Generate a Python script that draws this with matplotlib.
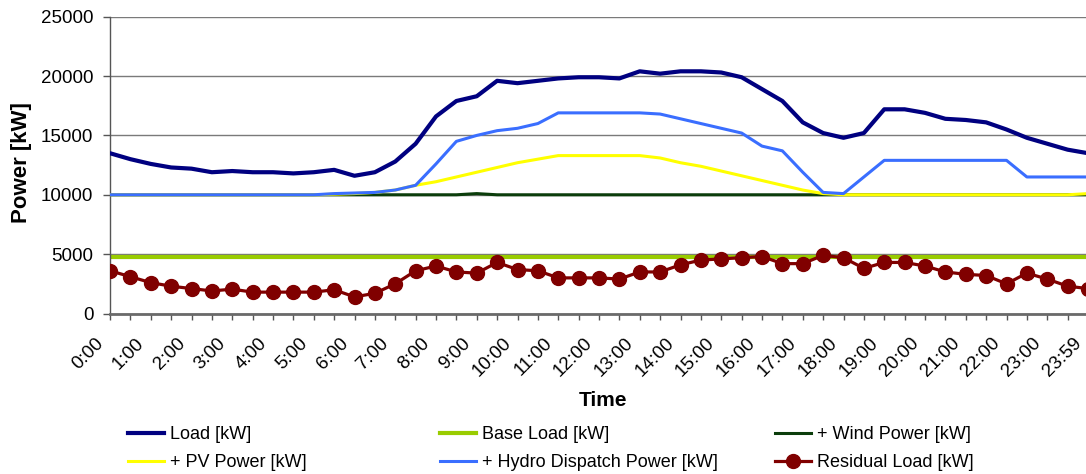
import numpy as np
import matplotlib
matplotlib.use('Agg')
import matplotlib.pyplot as plt
import matplotlib.transforms as mtransforms

plt.rcParams['font.family'] = ['Liberation Sans', 'DejaVu Sans']

# %% data (half-hourly)
times = ['0:00', '0:30', '1:00', '1:30', '2:00', '2:30', '3:00', '3:30',
         '4:00', '4:30', '5:00', '5:30', '6:00', '6:30', '7:00', '7:30',
         '8:00', '8:30', '9:00', '9:30', '10:00', '10:30', '11:00', '11:30',
         '12:00', '12:30', '13:00', '13:30', '14:00', '14:30', '15:00', '15:30',
         '16:00', '16:30', '17:00', '17:30', '18:00', '18:30', '19:00', '19:30',
         '20:00', '20:30', '21:00', '21:30', '22:00', '22:30', '23:00', '23:30',
         '23:59']

load = [13500, 13000, 12600, 12300, 12200, 11900, 12000, 11900, 11900, 11800,
        11900, 12100, 11600, 11900, 12800, 14300, 16600, 17900, 18300, 19600,
        19400, 19600, 19800, 19900, 19900, 19800, 20400, 20200, 20400, 20400,
        20300, 19900, 18900, 17900, 16100, 15200, 14800, 15200, 17200, 17200,
        16900, 16400, 16300, 16100, 15500, 14800, 14300, 13800, 13500]

base_load = [4800] * 49

wind = [10000] * 18 + [10100] + [10000] * 30

pv = [10000, 10000, 10000, 10000, 10000, 10000, 10000, 10000, 10000, 10000,
      10000, 10050, 10100, 10200, 10400, 10800, 11100, 11500, 11900, 12300,
      12700, 13000, 13300, 13300, 13300, 13300, 13300, 13100, 12700, 12400,
      12000, 11600, 11200, 10800, 10400, 10100, 10000, 10000, 10000, 10000,
      10000, 10000, 10000, 10000, 10000, 10000, 10000, 10000, 10100]

hydro = [10000, 10000, 10000, 10000, 10000, 10000, 10000, 10000, 10000, 10000,
         10000, 10100, 10150, 10200, 10400, 10800, 12600, 14500, 15000, 15400,
         15600, 16000, 16900, 16900, 16900, 16900, 16900, 16800, 16400, 16000,
         15600, 15200, 14100, 13700, 11900, 10200, 10100, 11500, 12900, 12900,
         12900, 12900, 12900, 12900, 12900, 11500, 11500, 11500, 11500]

residual = [3600, 3100, 2600, 2300, 2100, 1900, 2050, 1800, 1800, 1800,
            1800, 2000, 1400, 1700, 2500, 3600, 4000, 3500, 3400, 4300,
            3700, 3600, 3000, 3000, 3000, 2900, 3500, 3500, 4100, 4500,
            4600, 4700, 4800, 4200, 4200, 4900, 4700, 3800, 4300, 4300,
            4000, 3500, 3300, 3200, 2500, 3400, 2900, 2300, 2100]

yticks = [0, 5000, 10000, 15000, 20000, 25000]

# %% plot
W, H = 1086, 474
fig = plt.figure(figsize=(W / 100, H / 100), dpi=100)
ax = fig.add_axes([110 / W, (H - 313.5) / H, (1088 - 110) / W, 296.8 / H])

x = np.arange(len(times))
l_base, = ax.plot(x, base_load, color='#99CC00', lw=3, zorder=2,
                  label='Base Load [kW]')
l_wind, = ax.plot(x, wind, color='#0B3D0B', lw=2.2, zorder=3,
                  label='+ Wind Power [kW]')
l_pv, = ax.plot(x, pv, color='#FFFF00', lw=2.2, zorder=4,
                label='+ PV Power [kW]')
l_hydro, = ax.plot(x, hydro, color='#3A6EFF', lw=2.2, zorder=5,
                   label='+ Hydro Dispatch Power [kW]')
l_load, = ax.plot(x, load, color='#000080', lw=3, zorder=6,
                  label='Load [kW]')
l_res, = ax.plot(x, residual, color='#800000', lw=2.3, marker='o',
                 markersize=10, zorder=7, label='Residual Load [kW]')

ax.set_xlim(0, len(times) - 1)
ax.set_ylim(0, 25000)
ax.yaxis.grid(True, color='#7a7a7a', lw=1)
ax.set_axisbelow(True)
for s in ['top', 'right']:
    ax.spines[s].set_visible(False)
ax.spines['left'].set_color('#555555')
ax.spines['left'].set_linewidth(1)
ax.spines['bottom'].set_color('#6a6a6a')
ax.spines['bottom'].set_linewidth(2)
ax.tick_params(axis='y', length=5, width=1, color='#555555', pad=7)
ax.tick_params(axis='x', length=4.5, width=1, color='#555555', pad=15)

ax.set_yticks(yticks)
ax.set_yticklabels([str(v) for v in yticks], fontsize=13.5)
ax.set_xticks(x)
ax.set_xticklabels([t if i % 2 == 0 else '' for i, t in enumerate(times)],
                   fontsize=13.5, rotation=45, ha='right', va='center',
                   rotation_mode='anchor')
# shift labels a bit left of their tick, like the original
off = mtransforms.ScaledTranslation(-9 / 100, 0, fig.dpi_scale_trans)
for lab in ax.get_xticklabels():
    lab.set_transform(lab.get_transform() + off)

fig.text(22 / W, 1 - 162.5 / H, 'Power [kW]', rotation=90, fontsize=16,
         fontweight='bold', ha='center', va='center')
fig.text(603 / W, 1 - 401 / H, 'Time', fontsize=15, fontweight='bold',
         ha='center', va='center')

# legend: three columns placed like the original
cols = [([l_load, l_pv], 128), ([l_base, l_hydro], 440), ([l_wind, l_res], 775)]
for hs, px in cols:
    leg = fig.legend(handles=hs, loc='center left',
                     bbox_to_anchor=(px / W, 1 - 448.5 / H),
                     frameon=False, fontsize=13, borderpad=0,
                     borderaxespad=0, handlelength=2.0, handletextpad=0.3,
                     labelspacing=0.6)

fig.savefig('out.png', dpi=100)
